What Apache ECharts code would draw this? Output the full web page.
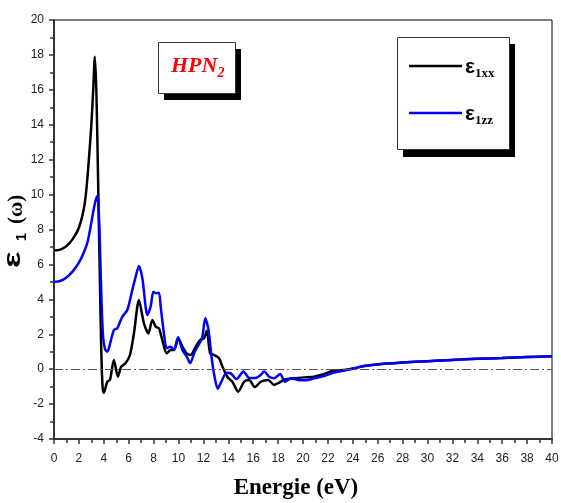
<!DOCTYPE html>
<html>
<head>
<meta charset="utf-8">
<script src="https://cdn.jsdelivr.net/npm/echarts@6/dist/echarts.min.js"></script>
<style>
  html, body { margin: 0; padding: 0; background: #fff; }
  #chart { width: 561px; height: 503px; }
</style>
</head>
<body>
<div id="chart"></div>
<script>
// Real part of the dielectric function of HPN2, xx and zz components
const energyXX = [0,0.5,1,1.5,2,2.4,2.6,2.8,3.0,3.15,3.28,3.4,3.5,3.6,3.7,3.8,3.9,4.0,4.28,4.5,
  4.81,5.13,5.4,5.75,6.1,6.42,6.82,7.22,7.58,7.9,8.17,8.43,8.7,9.05,9.37,9.64,9.99,10.31,10.66,10.98,
  11.38,11.73,12.05,12.27,12.54,12.86,13.26,13.53,13.93,14.33,14.79,15.27,15.67,16.13,16.61,17.2,17.68,18.09,18.62,19.29,
  20.1,20.9,21.7,22.5,23.3,24.1,24.9,26.3,28,30,32,34,36,38,40];
const eps1xx = [6.8,6.85,7.05,7.45,8.1,9.2,10.3,12,14,16,17.9,16,12.5,8.5,4.5,1,-1.0,-1.35,-0.72,-0.6,
  0.53,-0.43,0.14,0.34,0.81,2.05,3.96,2.63,2.05,2.82,2.43,2.34,1.67,0.91,1.1,1.1,1.77,1.29,0.91,0.81,
  1.29,1.67,1.77,2.2,0.91,0.81,0.62,0.14,-0.45,-0.72,-1.29,-0.72,-0.62,-1.02,-0.72,-0.62,-0.9,-0.77,-0.58,-0.52,
  -0.47,-0.43,-0.27,-0.08,-0.05,0.05,0.18,0.3,0.38,0.46,0.53,0.59,0.64,0.69,0.74];

const energyZZ = [0,0.5,1,1.5,2,2.4,2.7,3.0,3.2,3.45,3.55,3.65,3.75,3.85,3.95,4.1,4.28,4.41,4.81,5.08,
  5.48,5.89,6.29,6.56,6.82,7.1,7.5,7.76,7.98,8.17,8.43,8.57,8.83,9.05,9.37,9.64,9.96,10.31,10.66,10.93,
  11.3,11.7,11.92,12.15,12.4,12.65,12.86,13.15,13.45,13.85,14.2,14.65,15.22,15.67,16.2,16.6,16.88,17.28,17.68,18.17,
  18.54,19.03,19.56,20.23,20.9,21.7,22.5,23.3,24.1,24.9,26.3,28,30,32,34,36,38,40];
const eps1zz = [5.0,5.05,5.25,5.6,6.1,6.7,7.3,8.4,9.2,9.9,9.6,8.0,5.5,3.2,1.8,1.15,1.0,1.2,2.25,2.34,
  3.0,3.39,4.54,5.3,5.91,5.2,3.1,3.58,4.44,4.35,4.38,3.58,2.05,1.2,1.29,1.1,1.83,1.1,0.72,0.34,
  1.0,1.5,1.86,2.91,2.3,0.72,-0.3,-1.12,-0.7,-0.2,-0.24,-0.57,-0.14,-0.5,-0.5,-0.33,-0.14,-0.43,-0.52,-0.27,
  -0.72,-0.52,-0.62,-0.64,-0.52,-0.39,-0.2,-0.08,0.05,0.18,0.3,0.38,0.46,0.53,0.59,0.64,0.69,0.74];

const seriesNames = ['ε1xx', 'ε1zz'];

const zip = (xs, ys) => xs.map((x, i) => [x, ys[i]]);

const chart = echarts.init(document.getElementById('chart'), null, { renderer: 'canvas' });

const axisColor = '#333';
const labelStyle = { color: '#222', fontSize: 12, fontFamily: 'Liberation Sans, Arial, sans-serif' };
const sans = 'Liberation Sans, Arial, sans-serif';
const serif = 'Liberation Serif, Times New Roman, serif';

chart.setOption({
  animation: false,
  grid: {
    left: 54, right: 9, top: 20, bottom: 64,
    containLabel: false, outerBoundsMode: 'none',
    show: true, borderColor: '#000', borderWidth: 1, backgroundColor: 'transparent'
  },
  xAxis: {
    type: 'value', min: 0, max: 40, interval: 2,
    name: 'Energie (eV)', nameLocation: 'middle', nameGap: 38,
    nameTextStyle: { fontFamily: serif, fontWeight: 'bold', fontSize: 23, color: '#000', padding: [0, 14, 0, 0] },
    axisLine: { show: true, onZero: false, lineStyle: { color: axisColor, width: 2 } },
    axisTick: { show: true, length: 5, lineStyle: { color: axisColor, width: 1.5 } },
    minorTick: { show: true, splitNumber: 2, length: 4, lineStyle: { color: axisColor, width: 1.5 } },
    axisLabel: Object.assign({ margin: 14 }, labelStyle),
    splitLine: { show: false }
  },
  yAxis: {
    type: 'value', min: -4, max: 20, interval: 2,
    axisLine: { show: true, onZero: false, lineStyle: { color: axisColor, width: 2 } },
    axisTick: { show: true, length: 5, lineStyle: { color: axisColor, width: 1.5 } },
    minorTick: { show: true, splitNumber: 2, length: 4, lineStyle: { color: axisColor, width: 1.5 } },
    axisLabel: Object.assign({ margin: 10 }, labelStyle),
    splitLine: { show: false }
  },
  series: [
    {
      name: seriesNames[0], type: 'line', data: zip(energyXX, eps1xx),
      showSymbol: false, smooth: 0.25, z: 3,
      lineStyle: { color: '#000', width: 2.5 },
      markLine: {
        silent: true, symbol: 'none', label: { show: false },
        lineStyle: { color: '#555', width: 1, type: [9, 3, 2, 3] },
        data: [{ yAxis: 0 }]
      }
    },
    {
      name: seriesNames[1], type: 'line', data: zip(energyZZ, eps1zz),
      showSymbol: false, smooth: 0.25, z: 4,
      lineStyle: { color: '#0000ff', width: 2.5 }
    }
  ],
  graphic: [
    // y-axis title ε1(ω), written bottom-to-top
    {
      type: 'group', x: 20, y: 268, rotation: Math.PI / 2, z: 12,
      children: [
        { type: 'text', x: 0, y: -6.5, scaleX: 1.45, style: { text: 'ε', font: 'bold 24px ' + sans, fill: '#000', verticalAlign: 'middle' } },
        { type: 'text', x: 27, y: 2.5, style: { text: '1', font: 'bold 14px ' + sans, fill: '#000', verticalAlign: 'middle' } },
        { type: 'text', x: 44, y: -3.5, style: { text: '(ω)', font: 'bold 21px ' + serif, fill: '#000', verticalAlign: 'middle' } }
      ]
    },
    // compound label box with drop shadow
    { type: 'rect', shape: { x: 164, y: 49, width: 77, height: 51 }, style: { fill: '#000' }, z: 10 },
    { type: 'rect', shape: { x: 158.5, y: 42.5, width: 77, height: 51 }, style: { fill: '#fff', stroke: '#333', lineWidth: 1 }, z: 11 },
    {
      type: 'text', x: 171, y: 52, z: 12,
      style: {
        text: '{m|HPN}{s|2}',
        rich: {
          m: { fontFamily: serif, fontStyle: 'italic', fontWeight: 'bold', fontSize: 22, fill: '#ff0000' },
          s: { fontFamily: serif, fontStyle: 'italic', fontWeight: 'bold', fontSize: 14, fill: '#ff0000', padding: [14, 0, 0, 0] }
        }
      }
    },
    // legend box with drop shadow
    { type: 'rect', shape: { x: 403, y: 44, width: 112, height: 113 }, style: { fill: '#000' }, z: 10 },
    { type: 'rect', shape: { x: 397.5, y: 37.5, width: 112, height: 112 }, style: { fill: '#fff', stroke: '#333', lineWidth: 1 }, z: 11 },
    { type: 'line', shape: { x1: 409, y1: 66, x2: 462, y2: 66 }, style: { stroke: '#000', lineWidth: 2.5 }, z: 12 },
    { type: 'line', shape: { x1: 409, y1: 113, x2: 462, y2: 113 }, style: { stroke: '#0000ff', lineWidth: 2.5 }, z: 12 },
    {
      type: 'text', x: 465, y: 55, z: 12,
      style: {
        text: '{e|ε}{s|1xx}',
        rich: {
          e: { fontFamily: sans, fontWeight: 'bold', fontSize: 21, fill: '#000' },
          s: { fontFamily: serif, fontWeight: 'bold', fontSize: 13, fill: '#000', padding: [12, 0, 0, 0] }
        }
      }
    },
    {
      type: 'text', x: 465, y: 102, z: 12,
      style: {
        text: '{e|ε}{s|1zz}',
        rich: {
          e: { fontFamily: sans, fontWeight: 'bold', fontSize: 21, fill: '#000' },
          s: { fontFamily: serif, fontWeight: 'bold', fontSize: 13, fill: '#000', padding: [12, 0, 0, 0] }
        }
      }
    }
  ]
});
</script>
</body>
</html>
